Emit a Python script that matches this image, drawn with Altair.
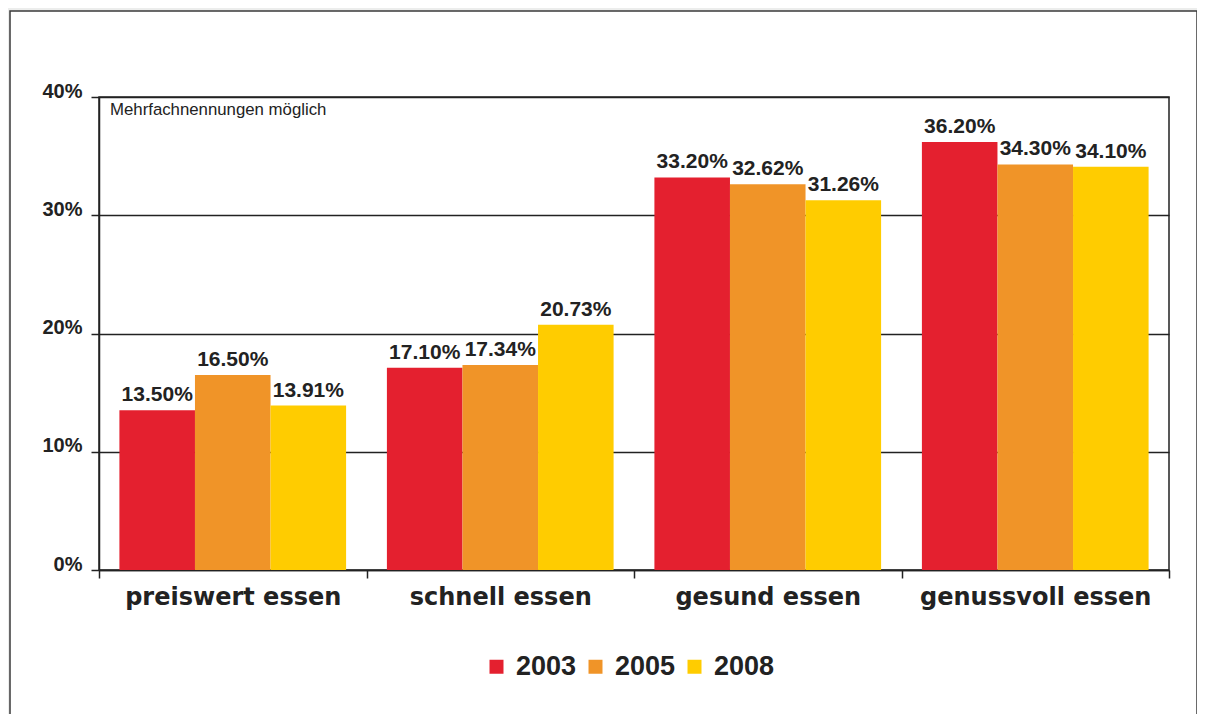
import altair as alt
import pandas as pd

categories = ["preiswert essen", "schnell essen", "gesund essen", "genussvoll essen"]
years = ["2003", "2005", "2008"]
values_2003 = [13.50, 17.10, 33.20, 36.20]
values_2005 = [16.50, 17.34, 32.62, 34.30]
values_2008 = [13.91, 20.73, 31.26, 34.10]
colors = ["#E4202F", "#F09428", "#FFCC00"]
y_ticks = [0, 10, 20, 30, 40]
note = "Mehrfachnennungen möglich"

rows = []
for year, vals in zip(years, [values_2003, values_2005, values_2008]):
    for c, v in zip(categories, vals):
        rows.append({"Kategorie": c, "Jahr": year, "Wert": v, "Label": f"{v:.2f}%"})
df = pd.DataFrame(rows)

W, H = 1070, 473
INK = "#222222"

x_enc = alt.X(
    "Kategorie:N", sort=categories,
    scale=alt.Scale(paddingInner=0, paddingOuter=0),
    axis=alt.Axis(title=None, labelAngle=0, tickBand="extent", grid=False, labelLimit=0,
                  labelFont="DejaVu Sans", labelFontWeight="bold", labelFontSize=24,
                  labelColor=INK, labelPadding=7, tickSize=8, tickColor=INK,
                  tickWidth=1.5, domainColor=INK, domainWidth=1.5),
)
xoff = alt.XOffset("Jahr:N", sort=years, scale=alt.Scale(paddingInner=0, paddingOuter=0.27))
y_enc = alt.Y(
    "Wert:Q", scale=alt.Scale(domain=[0, 40], nice=False),
    axis=alt.Axis(title=None, values=y_ticks, labelExpr="datum.value + '%'",
                  grid=True, gridColor=INK, gridWidth=1.5,
                  labelFont="Liberation Sans", labelFontWeight="bold", labelFontSize=20,
                  labelColor=INK, labelBaseline="alphabetic", labelPadding=9,
                  tickSize=8, tickColor=INK, tickWidth=1.5,
                  domainColor=INK, domainWidth=1.5),
)

frame_df = pd.DataFrame({"f": [0]})
outer = alt.Chart(frame_df).mark_rect(fill="white", fillOpacity=0, stroke="#ECEDEC", strokeWidth=20).encode(
    x=alt.value(-99), x2=alt.value(W + 38), y=alt.value(-96), y2=alt.value(H + 300))
frame = alt.Chart(frame_df).mark_rect(fill="white", fillOpacity=0, stroke="#3a3a3a", strokeWidth=1.5).encode(
    x=alt.value(-89), x2=alt.value(W + 28), y=alt.value(-86), y2=alt.value(H + 250))

base = alt.Chart(df)
bars = base.mark_bar().encode(
    x=x_enc, xOffset=xoff, y=y_enc,
    color=alt.Color("Jahr:N", sort=years, scale=alt.Scale(domain=years, range=colors),
                    legend=alt.Legend(title=None, orient="none", legendX=384, legendY=556,
                                      direction="horizontal", symbolType="square",
                                      symbolSize=196, symbolStrokeWidth=0, symbolOpacity=1,
                                      labelFont="Liberation Sans", labelFontWeight="bold",
                                      labelFontSize=27, labelColor=INK, labelOffset=6,
                                      columnPadding=5)),
)
texts = base.mark_text(dy=-9, baseline="alphabetic", font="Liberation Sans",
                       fontWeight="bold", fontSize=21, color=INK).encode(
    x=x_enc, xOffset=xoff, y=y_enc, text="Label:N")

note_layer = alt.Chart(pd.DataFrame({"note": [note]})).mark_text(
    align="left", baseline="alphabetic", font="Liberation Sans", fontSize=16.8, color=INK
).encode(x=alt.value(11), y=alt.value(18), text="note:N")

chart = alt.layer(outer, frame, bars, texts, note_layer).properties(
    width=W, height=H,
    autosize=alt.AutoSizeParams(type="none"),
    padding={"left": 91, "top": 89, "right": 28, "bottom": 144},
    background="white",
).configure_view(stroke=INK, strokeWidth=1.5)

chart.save("out.html", embed_options={"renderer": "svg", "actions": False})
